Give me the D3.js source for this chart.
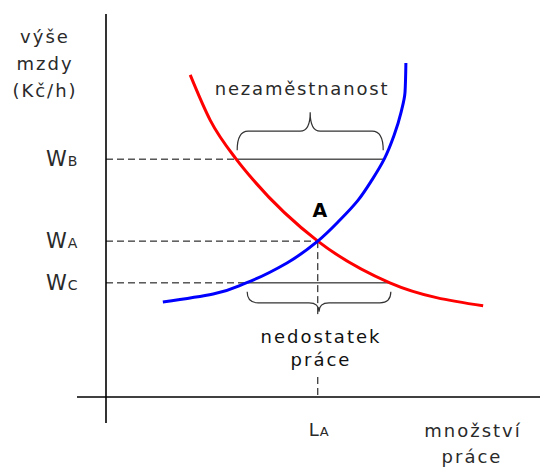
<!DOCTYPE html>
<html>
<head>
<meta charset="utf-8">
<script src="https://cdn.jsdelivr.net/npm/d3@7"></script>
<style>
  body { margin: 0; background: #fff; }
  text { font-family: "DejaVu Sans", sans-serif; fill: #2a2a2a; }
</style>
</head>
<body>
<div class="chart"></div>
<script>
// demand (red) and supply (blue) curves
var demandQty  = [1.94, 2.40, 3.00, 3.39, 4.88, 6.54, 8.69];
var demandWage = [8.41, 7.23, 6.21, 5.67, 4.07, 2.98, 2.38];
var supplyQty  = [1.31, 2.47, 3.23, 4.17, 4.88, 5.39, 5.81, 6.13, 6.41, 6.64, 6.80, 6.89, 6.91];
var supplyWage = [2.48, 2.69, 2.98, 3.50, 4.07, 4.62, 5.14, 5.67, 6.21, 6.84, 7.44, 7.96, 8.72];

// wage levels and where they meet the curves
var wageNames = ["B", "A", "C"];
var wageValues = [6.21, 4.07, 2.98];
var gapFrom = [3.00, 4.88, 3.23];   // left end of the solid segment
var gapTo   = [6.41, 4.88, 6.54];   // right end
var laborA = 4.88;

var width = 540, height = 467;

var svg = d3.select(".chart").append("svg")
    .attr("width", width)
    .attr("height", height);

var x = d3.scaleLinear().domain([0, 10]).range([106, 540]);
var y = d3.scaleLinear().domain([0, 10]).range([397, 14]);

var demand = demandQty.map(function (d, i) { return [d, demandWage[i]]; });
var supply = supplyQty.map(function (d, i) { return [d, supplyWage[i]]; });

var demandLine = d3.line()
    .x(function (d) { return x(d[0]); })
    .y(function (d) { return y(d[1]); })
    .curve(d3.curveMonotoneX);
// supply goes vertical at the top, so smooth along y instead
var supplyLine = d3.line()
    .x(function (d) { return x(d[0]); })
    .y(function (d) { return y(d[1]); })
    .curve(d3.curveMonotoneY);

// axes
svg.append("line")
    .attr("x1", x(0)).attr("x2", x(0))
    .attr("y1", y(10)).attr("y2", y(0) + 26)
    .attr("stroke", "#000").attr("stroke-width", 1.6);
svg.append("line")
    .attr("x1", x(0) - 29).attr("x2", width)
    .attr("y1", y(0)).attr("y2", y(0))
    .attr("stroke", "#000").attr("stroke-width", 1.6);

// dashed guides from the y axis
wageValues.forEach(function (w, i) {
    svg.append("line")
        .attr("x1", x(0)).attr("x2", x(gapFrom[i]))
        .attr("y1", y(w)).attr("y2", y(w))
        .attr("stroke", "#000").attr("stroke-width", 1)
        .attr("stroke-dasharray", "7,4");
    if (gapTo[i] > gapFrom[i]) {
        svg.append("line")
            .attr("x1", x(gapFrom[i])).attr("x2", x(gapTo[i]))
            .attr("y1", y(w)).attr("y2", y(w))
            .attr("stroke", "#000").attr("stroke-width", 1);
    }
});

// vertical dashed line at LA (broken by the label text)
svg.append("line")
    .attr("x1", x(laborA)).attr("x2", x(laborA))
    .attr("y1", y(wageValues[1])).attr("y2", 318)
    .attr("stroke", "#000").attr("stroke-width", 1)
    .attr("stroke-dasharray", "7,4");
svg.append("line")
    .attr("x1", x(laborA)).attr("x2", x(laborA))
    .attr("y1", 377).attr("y2", y(0))
    .attr("stroke", "#000").attr("stroke-width", 1)
    .attr("stroke-dasharray", "7,4");

// braces
function brace(x1, x2, y0, s, e, h, t) {
    var tip = (x1 + x2) / 2, r = 11, r2 = 10;
    return "M" + x1 + "," + (y0 + s * e) +
        "Q" + x1 + "," + (y0 + s * h) + " " + (x1 + r) + "," + (y0 + s * h) +
        "L" + (tip - r2) + "," + (y0 + s * h) +
        "Q" + tip + "," + (y0 + s * h) + " " + tip + "," + (y0 + s * t) +
        "Q" + tip + "," + (y0 + s * h) + " " + (tip + r2) + "," + (y0 + s * h) +
        "L" + (x2 - r) + "," + (y0 + s * h) +
        "Q" + x2 + "," + (y0 + s * h) + " " + x2 + "," + (y0 + s * e);
}
svg.append("path")
    .attr("d", brace(x(gapFrom[0]) + 1, x(gapTo[0]) - 1, y(wageValues[0]), -1, 9, 28, 47))
    .attr("fill", "none").attr("stroke", "#333").attr("stroke-width", 1.2);
svg.append("path")
    .attr("d", brace(x(gapFrom[2]) + 1, x(gapTo[2]) + 1, y(wageValues[2]), 1, 9, 20, 29))
    .attr("fill", "none").attr("stroke", "#333").attr("stroke-width", 1.2);

// curves
svg.append("path").datum(demand)
    .attr("d", demandLine)
    .attr("fill", "none").attr("stroke", "#ff0000").attr("stroke-width", 3);
svg.append("path").datum(supply)
    .attr("d", supplyLine)
    .attr("fill", "none").attr("stroke", "#0000ff").attr("stroke-width", 3);

// y axis title
var yTitle = ["výše", "mzdy", "(Kč/h)"];
yTitle.forEach(function (t, i) {
    svg.append("text")
        .attr("x", 45).attr("y", 43 + i * 27)
        .attr("text-anchor", "middle")
        .attr("font-size", 18).attr("letter-spacing", 2)
        .text(t);
});

// wage labels
wageValues.forEach(function (w, i) {
    var t = svg.append("text")
        .attr("x", 46).attr("y", y(w) + 7)
        .attr("font-size", 21);
    t.append("tspan").text("W");
    t.append("tspan").attr("font-size", 14).attr("dx", 1).text(wageNames[i]);
});

// LA label
var la = svg.append("text")
    .attr("x", x(laborA) - 9).attr("y", 436)
    .attr("font-size", 18);
la.append("tspan").text("L");
la.append("tspan").attr("font-size", 13).attr("dx", 1).text("A");

// point A
svg.append("text")
    .attr("x", x(laborA) + 2).attr("y", 217)
    .attr("text-anchor", "middle")
    .attr("font-size", 19).attr("font-weight", "bold")
    .style("fill", "#000")
    .text("A");

// annotations
svg.append("text")
    .attr("x", 302).attr("y", 95)
    .attr("text-anchor", "middle")
    .attr("font-size", 18).attr("letter-spacing", 1.8)
    .text("nezaměstnanost");
svg.append("text")
    .attr("x", 321).attr("y", 343)
    .attr("text-anchor", "middle")
    .attr("font-size", 18).attr("letter-spacing", 2)
    .style("fill", "#111")
    .text("nedostatek");
svg.append("text")
    .attr("x", 321).attr("y", 366)
    .attr("text-anchor", "middle")
    .attr("font-size", 18).attr("letter-spacing", 2)
    .style("fill", "#111")
    .text("práce");

// x axis title
svg.append("text")
    .attr("x", 473).attr("y", 437)
    .attr("text-anchor", "middle")
    .attr("font-size", 18).attr("letter-spacing", 2)
    .text("množství");
svg.append("text")
    .attr("x", 472).attr("y", 463)
    .attr("text-anchor", "middle")
    .attr("font-size", 18).attr("letter-spacing", 2)
    .text("práce");
</script>
</body>
</html>
